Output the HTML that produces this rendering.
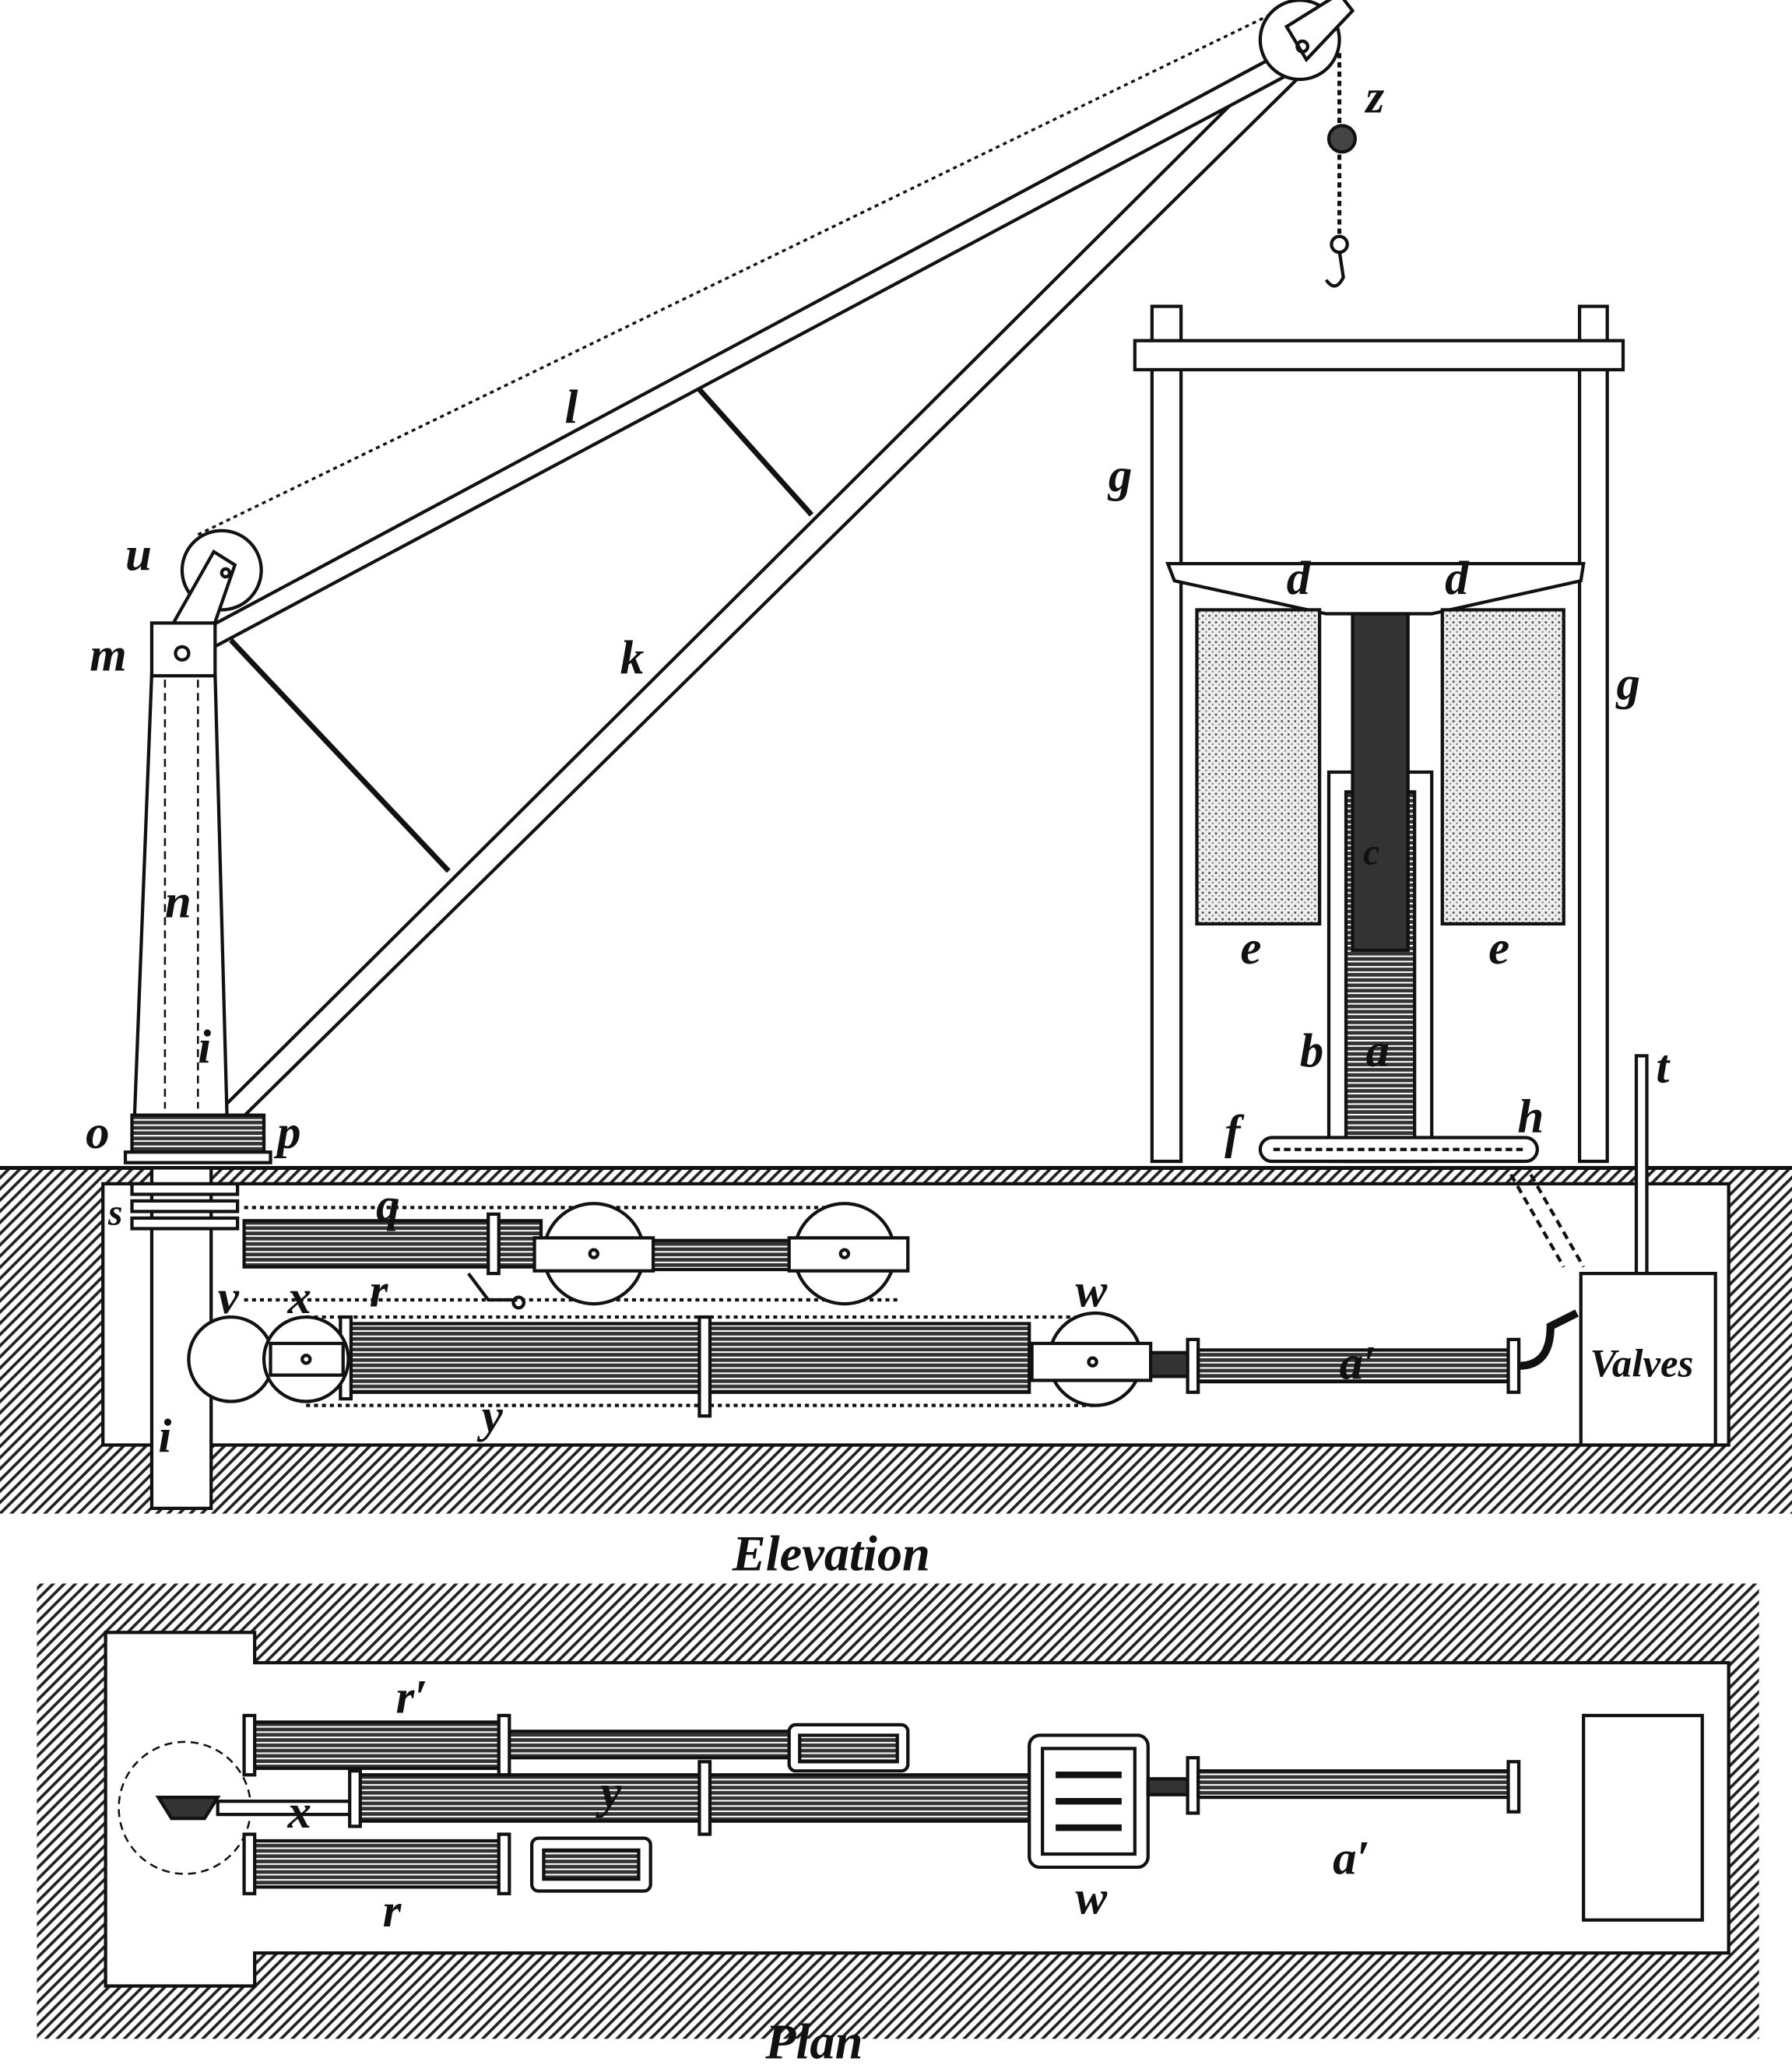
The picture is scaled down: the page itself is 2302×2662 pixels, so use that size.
<!DOCTYPE html>
<html><head><meta charset="utf-8"><style>html,body{margin:0;padding:0;background:#fff}svg{display:block}
text{font-family:"Liberation Serif",serif;font-style:italic;font-weight:bold;fill:#111}</style></head><body>
<svg width="2302" height="2662" viewBox="0 0 1358 1570" xmlns="http://www.w3.org/2000/svg">
<defs>
<pattern id="h" width="6" height="6" patternUnits="userSpaceOnUse" patternTransform="rotate(45)"><rect width="6" height="6" fill="#fff"/><rect width="2.2" height="6" fill="#222"/></pattern>
<pattern id="dk" width="4" height="4" patternUnits="userSpaceOnUse"><rect width="4" height="4" fill="#333"/><rect y="0" width="4" height="1.2" fill="#fff"/></pattern>
<pattern id="st" width="5" height="5" patternUnits="userSpaceOnUse"><rect width="5" height="5" fill="#eee"/><circle cx="1.5" cy="1.5" r=".9" fill="#555"/><circle cx="4" cy="3.8" r=".7" fill="#777"/></pattern>
</defs>
<g stroke="#111" stroke-width="2.5" fill="none">
<rect x="0" y="885" width="1358" height="262" fill="url(#h)" stroke="none"/>
<line x1="0" y1="885" x2="1358" y2="885" stroke-width="3"/>
<rect x="78" y="897" width="1232" height="198" fill="#fff"/>
<rect x="115" y="885" width="45" height="258" fill="#fff"/>
<rect x="28" y="1200" width="1305" height="345" fill="url(#h)" stroke="none"/>
<polygon points="80,1237 193,1237 193,1260 1310,1260 1310,1480 193,1480 193,1505 80,1505" fill="#fff"/>
<line x1="150" y1="405" x2="975" y2="5" stroke-dasharray="3 3" stroke-width="2"/>
<polygon points="128,880 150,880 998,45 982,30" fill="#fff"/>
<polygon points="134,488 140,502 992,48 984,33" fill="#fff"/>
<line x1="530" y1="295" x2="615" y2="390" stroke-width="4"/>
<line x1="175" y1="485" x2="340" y2="660" stroke-width="4"/>
<polygon points="115,510 163,510 172,845 102,845" fill="#fff"/>
<line x1="125" y1="515" x2="125" y2="840" stroke-dasharray="6 4" stroke-width="1.5"/>
<line x1="150" y1="515" x2="150" y2="840" stroke-dasharray="6 4" stroke-width="1.5"/>
<rect x="100" y="845" width="100" height="30" fill="url(#dk)"/>
<rect x="95" y="873" width="110" height="8" fill="#fff"/>
<circle cx="168" cy="432" r="30" fill="#fff"/>
<polygon points="128,478 162,418 178,428 160,480" fill="#fff"/>
<rect x="115" y="472" width="48" height="40" fill="#fff"/>
<circle cx="138" cy="495" r="5"/>
<circle cx="171" cy="434" r="3"/>
<circle cx="985" cy="30" r="30" fill="#fff"/>
<polygon points="975,20 1015,-5 1025,8 990,45" fill="#fff"/>
<circle cx="987" cy="35" r="4"/>
<line x1="1015" y1="40" x2="1015" y2="180" stroke-dasharray="4 3" stroke-width="3"/>
<circle cx="1017" cy="105" r="10" fill="#444"/>
<circle cx="1015" cy="185" r="6"/>
<path d="M1015 190 L1018 210 Q1012 222 1005 212"/>
<rect x="873" y="232" width="22" height="648" fill="#fff"/>
<rect x="1197" y="232" width="21" height="648" fill="#fff"/>
<rect x="860" y="258" width="370" height="22" fill="#fff"/>
<polygon points="885,427 1200,427 1198,440 1085,465 1005,465 890,440" fill="#fff"/>
<rect x="907" y="462" width="93" height="238" fill="url(#st)"/>
<rect x="1093" y="462" width="92" height="238" fill="url(#st)"/>
<rect x="1007" y="585" width="78" height="295" fill="#fff"/>
<rect x="1020" y="600" width="52" height="280" fill="url(#dk)"/>
<rect x="1025" y="465" width="42" height="255" fill="#333"/>
<rect x="955" y="862" width="210" height="18" rx="9" fill="#fff"/>
<line x1="965" y1="871" x2="1155" y2="871" stroke-dasharray="5 3"/>
<line x1="1160" y1="890" x2="1200" y2="960" stroke-dasharray="6 4"/>
<line x1="1145" y1="890" x2="1185" y2="960" stroke-dasharray="6 4"/>
<rect x="1240" y="800" width="8" height="165" fill="#fff"/>
<rect x="1198" y="965" width="102" height="130" fill="#fff"/>
<line x1="185" y1="915" x2="630" y2="915" stroke-dasharray="3 3"/>
<line x1="185" y1="985" x2="680" y2="985" stroke-dasharray="3 3"/>
<rect x="185" y="925" width="225" height="35" fill="url(#dk)"/>
<rect x="370" y="920" width="8" height="45" fill="#fff"/>
<rect x="410" y="940" width="230" height="22" fill="url(#dk)"/>
<circle cx="450" cy="950" r="38" fill="#fff"/>
<rect x="405" y="938" width="90" height="25" fill="#fff"/>
<circle cx="640" cy="950" r="38" fill="#fff"/>
<rect x="598" y="938" width="90" height="25" fill="#fff"/>
<circle cx="450" cy="950" r="3"/><circle cx="640" cy="950" r="3"/>
<path d="M355 965 L370 985 L392 985"/><circle cx="393" cy="987" r="4"/>
<rect x="100" y="897" width="80" height="8" fill="#fff"/><rect x="100" y="910" width="80" height="8" fill="#fff"/><rect x="100" y="923" width="80" height="8" fill="#fff"/>
<line x1="232" y1="998" x2="830" y2="998" stroke-dasharray="3 3"/>
<line x1="232" y1="1065" x2="830" y2="1065" stroke-dasharray="3 3"/>
<rect x="260" y="1003" width="520" height="52" fill="url(#dk)"/>
<rect x="258" y="998" width="8" height="62" fill="#fff"/>
<rect x="530" y="998" width="8" height="75" fill="#fff"/>
<circle cx="175" cy="1030" r="32" fill="#fff"/>
<circle cx="232" cy="1030" r="32" fill="#fff"/>
<rect x="205" y="1018" width="55" height="24" fill="#fff"/>
<circle cx="232" cy="1030" r="3"/>
<circle cx="830" cy="1030" r="35" fill="#fff"/>
<rect x="782" y="1018" width="90" height="28" fill="#fff"/>
<circle cx="828" cy="1032" r="3"/>
<rect x="872" y="1025" width="28" height="18" fill="#333"/>
<rect x="900" y="1015" width="8" height="40" fill="#fff"/>
<rect x="908" y="1023" width="237" height="24" fill="url(#dk)"/>
<rect x="1143" y="1015" width="8" height="40" fill="#fff"/>
<path d="M1151 1035 Q1175 1035 1175 1005 L1195 995" stroke-width="6"/>
<circle cx="140" cy="1370" r="50" stroke-dasharray="6 4" stroke-width="1.5" fill="#fff"/>
<polygon points="120,1362 165,1362 155,1378 130,1378" fill="#333"/>
<rect x="185" y="1305" width="200" height="35" fill="url(#dk)"/>
<rect x="385" y="1312" width="215" height="20" fill="url(#dk)"/>
<rect x="185" y="1300" width="8" height="45" fill="#fff"/><rect x="378" y="1300" width="8" height="45" fill="#fff"/>
<rect x="598" y="1307" width="90" height="35" rx="5" fill="#fff"/><rect x="606" y="1315" width="74" height="20" fill="url(#dk)"/>
<rect x="165" y="1365" width="105" height="10" fill="#fff"/>
<rect x="270" y="1345" width="510" height="35" fill="url(#dk)"/>
<rect x="265" y="1342" width="8" height="42" fill="#fff"/><rect x="530" y="1335" width="8" height="55" fill="#fff"/>
<rect x="780" y="1315" width="90" height="100" rx="8" fill="#fff"/><rect x="790" y="1325" width="70" height="80" fill="#fff"/>
<line x1="800" y1="1345" x2="850" y2="1345" stroke-width="5"/><line x1="800" y1="1365" x2="850" y2="1365" stroke-width="5"/><line x1="800" y1="1385" x2="850" y2="1385" stroke-width="5"/>
<rect x="870" y="1348" width="30" height="12" fill="#333"/>
<rect x="900" y="1332" width="8" height="42" fill="#fff"/>
<rect x="908" y="1342" width="237" height="20" fill="url(#dk)"/>
<rect x="1143" y="1335" width="8" height="38" fill="#fff"/>
<rect x="185" y="1395" width="200" height="35" fill="url(#dk)"/>
<rect x="185" y="1390" width="8" height="45" fill="#fff"/><rect x="378" y="1390" width="8" height="45" fill="#fff"/>
<rect x="403" y="1393" width="90" height="40" rx="5" fill="#fff"/><rect x="412" y="1402" width="72" height="22" fill="url(#dk)"/>
<rect x="1200" y="1300" width="90" height="155" fill="#fff"/>
</g>
<g font-size="36">
<text x="1035" y="85">z</text><text x="428" y="320">l</text><text x="95" y="432">u</text><text x="68" y="508">m</text>
<text x="470" y="510">k</text><text x="840" y="372">g</text><text x="1225" y="530">g</text>
<text x="975" y="450">d</text><text x="1095" y="450">d</text><text x="1033" y="655" font-size="28">c</text>
<text x="940" y="730">e</text><text x="1128" y="730">e</text><text x="985" y="808">b</text><text x="1035" y="808">a</text>
<text x="928" y="870">f</text><text x="1150" y="858">h</text><text x="1255" y="820">t</text>
<text x="125" y="695">n</text><text x="150" y="805">i</text><text x="65" y="870">o</text><text x="210" y="870">p</text>
<text x="82" y="928" font-size="28">s</text><text x="285" y="925">q</text><text x="280" y="990">r</text>
<text x="165" y="995">v</text><text x="218" y="995">x</text><text x="815" y="990">w</text><text x="365" y="1085">y</text>
<text x="1015" y="1045">a′</text><text x="120" y="1100">i</text>
<text x="1205" y="1043" font-size="30">Valves</text>
<text x="555" y="1190" font-size="38">Elevation</text>
<text x="300" y="1298">r′</text><text x="455" y="1370">y</text><text x="218" y="1385">x</text><text x="815" y="1450">w</text>
<text x="1010" y="1420">a′</text><text x="290" y="1460">r</text>
<text x="580" y="1560" font-size="38">Plan</text>
</g>
</svg>
</body></html>
